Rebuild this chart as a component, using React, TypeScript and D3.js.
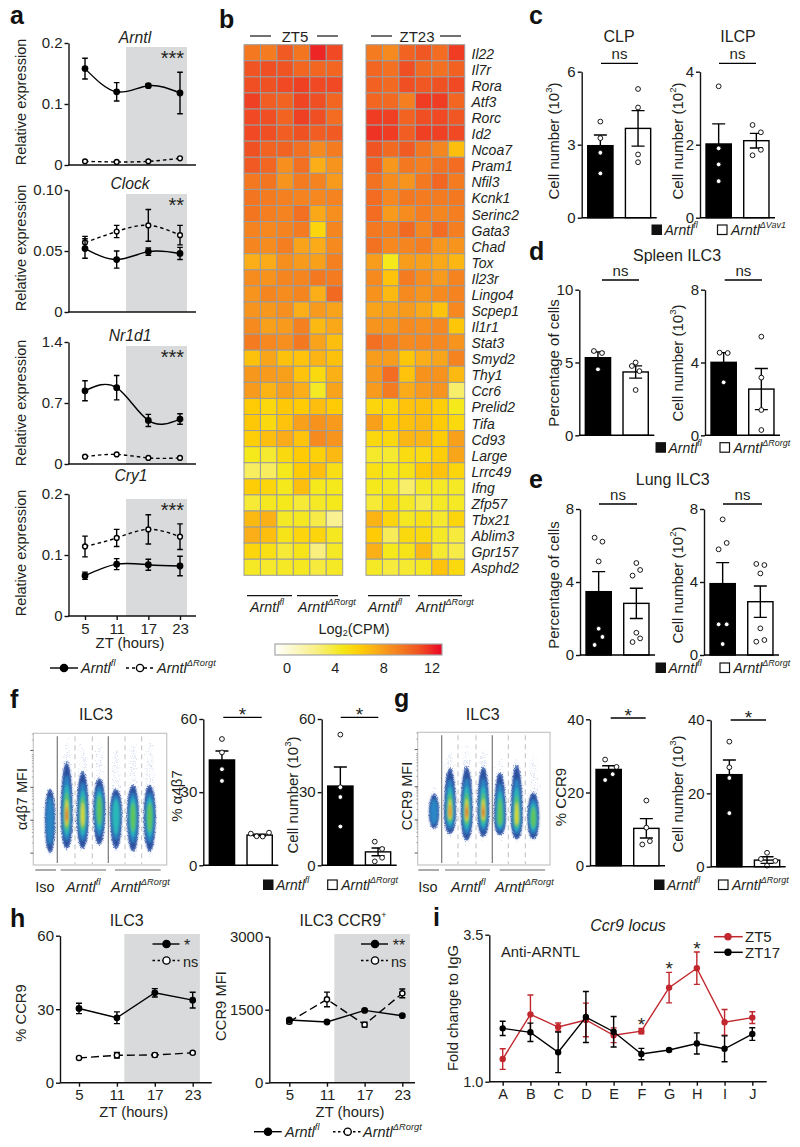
import * as d3 from "d3";
import { useEffect, useRef } from "react";

const ink = "#231f20";
const font = "'Liberation Sans', Arial, sans-serif";

// panel a
const zt = [5, 11, 17, 23];
const arntlFl = [0.158, 0.12, 0.13, 0.118];
const arntlFlSem = [0.017, 0.015, 0.003, 0.034];
const arntlKo = [0.006, 0.005, 0.006, 0.011];
const arntlKoSem = [0, 0, 0, 0];
const clockFl = [0.052, 0.043, 0.0495, 0.048];
const clockFlSem = [0.008, 0.007, 0.003, 0.005];
const clockKo = [0.057, 0.066, 0.071, 0.063];
const clockKoSem = [0.005, 0.005, 0.013, 0.008];
const nr1d1Fl = [0.84, 0.876, 0.5, 0.516];
const nr1d1FlSem = [0.115, 0.14, 0.07, 0.06];
const nr1d1Ko = [0.084, 0.11, 0.07, 0.07];
const nr1d1KoSem = [0, 0, 0, 0];
const cry1Fl = [0.066, 0.085, 0.084, 0.082];
const cry1FlSem = [0.006, 0.009, 0.009, 0.016];
const cry1Ko = [0.114, 0.128, 0.142, 0.13];
const cry1KoSem = [0.017, 0.014, 0.024, 0.021];

// panel b
const genes = ["Il22", "Il7r", "Rora", "Atf3", "Rorc", "Id2", "Ncoa7", "Pram1", "Nfil3", "Kcnk1", "Serinc2", "Gata3", "Chad", "Tox", "Il23r", "Lingo4", "Scpep1", "Il1r1", "Stat3", "Smyd2", "Thy1", "Ccr6", "Prelid2", "Tifa", "Cd93", "Large", "Lrrc49", "Ifng", "Zfp57", "Tbx21", "Ablim3", "Gpr157", "Asphd2"];
const heatZT5 = [
  [9.6, 9.5, 10.6, 9.7, 11.9, 11.1],
  [10.8, 11, 10.8, 10.2, 10.2, 10.2],
  [11, 10.9, 11.1, 11.3, 11.1, 11.1],
  [11.3, 10.5, 10.3, 11.2, 11, 10.2],
  [11.1, 11, 10.3, 11.3, 11, 10],
  [11.1, 11, 10.5, 10.9, 10.5, 10.6],
  [10.9, 10.3, 10.3, 9.9, 8.9, 9.5],
  [10.6, 10.2, 8.7, 9.9, 7.6, 8.5],
  [9.6, 9.7, 8.5, 9.5, 9.2, 8.3],
  [9.7, 9.5, 9.3, 9.2, 9, 9.2],
  [9.7, 9.4, 9.2, 9.9, 7.8, 8.7],
  [9.2, 9, 9.2, 9.5, 6, 9.1],
  [9.1, 8.8, 9.4, 8, 7.7, 8.9],
  [7.6, 7.7, 8.7, 8.3, 8.1, 9.3],
  [8.8, 8.6, 9.1, 9.1, 9.6, 9.5],
  [8.5, 9.1, 8.8, 9.1, 7.6, 10.1],
  [8.5, 8.4, 8.7, 7.6, 8.3, 8],
  [8.9, 8.1, 8.3, 9.3, 7.2, 7.8],
  [9.5, 9, 8.7, 9.6, 8, 7],
  [6.9, 7.9, 6.9, 6.8, 7.4, 6.9],
  [8.4, 8.3, 8.1, 6.8, 5.8, 7.5],
  [8.3, 7.4, 8.1, 7.6, 4.8, 8],
  [6.5, 5.9, 6.6, 6.5, 7, 6.5],
  [6.6, 5.8, 6.8, 8.1, 8.6, 8.3],
  [6.3, 7, 7.7, 6.8, 8.9, 8.5],
  [5, 4.6, 5.8, 6.5, 6.2, 7.2],
  [3.8, 3.8, 5, 6.5, 7, 5.5],
  [6.4, 6, 5, 7, 5, 5],
  [4.5, 4.9, 5, 4.5, 4.8, 5],
  [7.2, 7.5, 4.8, 4.9, 4.2, 2.8],
  [7.6, 7, 5.2, 6, 6, 4.9],
  [6, 5.4, 4.5, 5.2, 3.2, 4.8],
  [4.8, 4.7, 4.8, 4.9, 4.4, 4.8],
];
const heatZT23 = [
  [9.5, 8.9, 10.3, 10.7, 10, 11.4],
  [10.2, 9.9, 11, 10.1, 9.9, 10.4],
  [10.4, 10.1, 11, 10.7, 10.9, 11.1],
  [10.2, 10.1, 9.4, 11.4, 11.4, 10.2],
  [11.4, 11.3, 10.3, 11, 11.1, 10.7],
  [11.6, 11.4, 10.5, 11.3, 11.3, 11.1],
  [10.8, 10.1, 10.6, 9.7, 9.1, 7],
  [10.4, 8.4, 9.6, 9.4, 9.8, 10],
  [9.8, 8.8, 8.5, 9.6, 10.2, 9.5],
  [10, 9, 9.6, 9.5, 9.5, 9.6],
  [10, 8.3, 8.8, 9.4, 9.1, 9.4],
  [9.6, 9.3, 10.1, 9.1, 10, 9.4],
  [9.8, 9, 9.1, 9.4, 8.4, 8.5],
  [8.2, 5, 8.2, 8.1, 7.8, 7.3],
  [8.9, 6.8, 9.5, 8.8, 8.3, 9.2],
  [8.6, 7.2, 8.9, 8.5, 8.9, 9.2],
  [8, 8, 8.3, 7.8, 6.8, 9],
  [8.5, 8.4, 8.9, 8.7, 9, 6.7],
  [9.9, 9.4, 8.9, 9, 9, 8.5],
  [8.2, 8.2, 6.7, 7.6, 7.9, 9.2],
  [8.4, 10, 6.8, 8.6, 8.6, 7.2],
  [8.3, 9.5, 7.7, 8.3, 8.5, 3.6],
  [6, 5.9, 6.8, 6.9, 6.3, 5],
  [8.1, 6.5, 6.9, 7.2, 6.5, 5.8],
  [5.9, 5.9, 7.3, 7.3, 6.4, 8.1],
  [4.7, 4.6, 5.7, 5.7, 6.3, 7.9],
  [5.4, 5, 5.3, 6.6, 6.8, 6],
  [5, 4.8, 3.6, 4.8, 4.8, 4.8],
  [4.5, 5.5, 4.8, 4.2, 4.8, 4.8],
  [7.4, 6, 4.9, 5.4, 4.7, 6],
  [6.5, 3.9, 5.8, 5.8, 4.8, 4.4],
  [7.5, 5, 5.2, 7.2, 4.6, 4.2],
  [4.8, 4.4, 4.6, 4.9, 6.8, 5.8],
];
const heatTicks = [0, 4, 8, 12];
const heatStops = [0, 3, 5, 6.5, 7.5, 8.5, 9.5, 11, 12];
const heatColors = ["#ffffff", "#f9f08a", "#f5e81b", "#ffcb05", "#fbb116", "#f7941d", "#f47b20", "#f04e23", "#ed2024"];

// bar panels: mean, sem, individual mice, and which side of the bar each dot sits on
const clpMean = [2.96, 3.67];
const clpSem = [0.44, 0.73];
const clpDots = [[3.95, 3.27, 2.67, 1.82], [5.29, 4.53, 2.6, 2.28]];
const clpSide = [[0, 0, 0, 0], [0, 0, 0, 0]];
const ilcpMean = [2.02, 2.11];
const ilcpSem = [0.55, 0.2];
const ilcpDots = [[3.6, 1.9, 1.46, 1.0], [2.54, 2.34, 1.86, 1.71]];
const ilcpSide = [[0, 0, 0, 0], [-0.15, 0.18, 0.18, -0.15]];
const spleenPctMean = [5.33, 4.35];
const spleenPctSem = [0.4, 0.42];
const spleenPctDots = [[5.79, 5.65, 4.53], [5, 4.76, 4.41, 3.11]];
const spleenPctSide = [[-0.16, 0.16, 0], [0, -0.15, 0.15, 0]];
const spleenNumMean = [4.01, 2.54];
const spleenNumSem = [0.53, 1.13];
const spleenNumDots = [[4.54, 4.52, 2.91], [5.42, 3.17, 1.39, 0.29]];
const spleenNumSide = [[-0.16, 0.16, 0], [0, 0, 0, 0]];
const lungPctMean = [3.47, 2.83];
const lungPctSem = [1.1, 0.83];
const lungPctDots = [[6.43, 6.21, 5.13, 1.44, 0.99, 0.55], [5.04, 4.66, 4.35, 1.22, 0.91, 0.71]];
const lungPctSide = [[-0.16, 0.15, 0, 0, 0.15, -0.16], [0, 0.15, -0.15, 0, 0.15, -0.15]];
const lungNumMean = [3.91, 2.92];
const lungNumSem = [1.15, 0.86];
const lungNumDots = [[7.43, 6.14, 5.79, 1.68, 1.68, 0.6], [4.99, 4.93, 4.47, 1.46, 0.82, 0.73]];
const lungNumSide = [[0, 0.16, -0.16, -0.16, 0.16, 0], [-0.16, 0.16, 0, 0, 0.16, -0.16]];
const a4b7PctMean = [43.2, 12.4];
const a4b7PctSem = [3.7, 0.4];
const a4b7PctDots = [[51.8, 46.3, 39.4, 34.6], [13, 11.9, 11.8, 13.4]];
const a4b7PctSide = [[0, 0, 0, 0], [-0.35, -0.12, 0.12, 0.37]];
const a4b7NumMean = [32.5, 5.5];
const a4b7NumSem = [7.8, 1.6];
const a4b7NumDots = [[53.6, 32, 28, 15.9], [9.7, 6.7, 3.1, 1.6]];
const a4b7NumSide = [[0, 0, 0, 0], [-0.13, 0.16, 0.16, -0.13]];
const ccr9PctMean = [26.3, 10.2];
const ccr9PctSem = [1, 2.65];
const ccr9PctDots = [[29, 27, 25, 23.4], [17.8, 10.4, 6.7, 5.8]];
const ccr9PctSide = [[-0.14, 0.31, 0.16, -0.14], [0, 0, 0.14, -0.16]];
const ccr9NumMean = [25.1, 1.8];
const ccr9NumSem = [4, 0.9];
const ccr9NumDots = [[34.1, 27.1, 24.2, 14.6], [3.8, 2.1, 1.6, 0.3]];
const ccr9NumSide = [[0, 0, 0, 0], [0, -0.24, 0.33, 0]];

// flow plots, in percent of the plot height
const a4b7Centre = [34, 37, 37, 42, 39, 37, 37];
const a4b7Top = [57, 77, 70, 65, 57, 60, 60];
const a4b7Bottom = [10, 13, 13, 16, 13, 11, 11];
const a4b7Tail = [62, 97, 92, 95, 87, 93, 95];
const a4b7Peak = [2, 7, 5, 4, 3, 4, 4];
const ccr9Centre = [39, 39, 39, 39, 35, 35, 35];
const ccr9Top = [53, 72, 73, 73, 69, 74, 54];
const ccr9Bottom = [28, 24, 19, 22, 23, 20, 20];
const ccr9Tail = [60, 85, 92, 88, 80, 82, 82];
const ccr9Peak = [2, 6, 7, 7, 4, 5, 4];
const jet = ["#2c4f9f", "#2a86c4", "#2bb8b8", "#5fc45a", "#dcd92b", "#f58a1f", "#e5262a"];
const flowMajor = [87, 59, 34, 9];

// panel h
const hPctFl = [30.3, 26.5, 36.7, 33.7];
const hPctFlSem = [2.1, 2.4, 1.7, 3.2];
const hPctKo = [10.1, 11.2, 11.3, 12.2];
const hPctKoSem = [0.3, 1.1, 0.7, 0.3];
const hMfiFl = [1288, 1247, 1486, 1377];
const hMfiFlSem = [25, 25, 25, 25];
const hMfiKo = [1253, 1712, 1192, 1836];
const hMfiKoSem = [40, 150, 50, 90];

// panel i
const loci = ["A", "B", "C", "D", "E", "F", "G", "H", "I", "J"];
const zt5Fold = [1.385, 2.145, 1.93, 2.05, 1.79, 1.86, 2.6, 2.93, 2.01, 2.09];
const zt5Sem = [0.176, 0.329, 0.068, 0.286, 0.125, 0.045, 0.26, 0.275, 0.218, 0.1];
const zt17Fold = [1.907, 1.84, 1.5, 2.1, 1.85, 1.47, 1.54, 1.65, 1.56, 1.81];
const zt17Sem = [0.122, 0.156, 0.346, 0.434, 0.26, 0.096, 0.017, 0.18, 0.22, 0.108];
const iStars = ["F", "G", "H"];

const colorScale = d3.scaleLinear<string>().domain(heatStops).range(heatColors);

type Txt = {
  x: number;
  y: number;
  size?: number;
  anchor?: string;
  italic?: boolean;
  bold?: boolean;
  children: any;
  rotate?: boolean;
  fill?: string;
};

function T({ x, y, size = 15, anchor = "middle", italic, bold, children, rotate, fill = ink }: Txt) {
  return (
    <text
      x={rotate ? 0 : x}
      y={rotate ? 0 : y}
      transform={rotate ? `translate(${x},${y}) rotate(-90)` : undefined}
      fontSize={size}
      textAnchor={anchor}
      dominantBaseline="central"
      fontStyle={italic ? "italic" : undefined}
      fontWeight={bold ? "bold" : undefined}
      fill={fill}
    >
      {children}
    </text>
  );
}

function Strain({ x, y, sup, size = 14.5 }: { x: number; y: number; sup: string; size?: number }) {
  return (
    <text x={x} y={y} fontSize={size} fontStyle="italic" dominantBaseline="central" fill={ink}>
      Arntl
      <tspan dy={-5} fontSize={size * 0.64}>
        {sup}
      </tspan>
    </text>
  );
}

function CellNumber({ exp }: { exp: string }) {
  return (
    <>
      <tspan>Cell number (10</tspan>
      <tspan dy={-5} fontSize={9.5}>
        {exp}
      </tspan>
      <tspan dy={5}>)</tspan>
    </>
  );
}

function YAxis({ scale, x, ticks, labels, size = 15 }: any) {
  const ref = useRef<SVGGElement | null>(null);
  useEffect(() => {
    const g = d3.select(ref.current);
    g.call(
      d3
        .axisLeft(scale)
        .tickValues(ticks)
        .tickSize(4)
        .tickSizeOuter(0)
        .tickPadding(2)
        .tickFormat((_: any, i: number) => labels[i]) as any
    );
    g.selectAll("path,line").attr("stroke", "#111").attr("stroke-width", 1.4);
    g.selectAll("text").attr("fill", ink).attr("font-size", size).attr("font-family", font);
  }, [scale, ticks, labels, size]);
  return <g ref={ref} transform={`translate(${x},0)`} />;
}

function XAxis({ scale, y, ticks, labels, size = 15, x0, x1 }: any) {
  const ref = useRef<SVGGElement | null>(null);
  useEffect(() => {
    const g = d3.select(ref.current);
    g.call(
      d3
        .axisBottom(scale)
        .tickValues(ticks)
        .tickSize(4)
        .tickSizeOuter(0)
        .tickPadding(3)
        .tickFormat((_: any, i: number) => labels[i]) as any
    );
    g.select("path.domain").remove();
    g.selectAll("line").attr("stroke", "#111").attr("stroke-width", 1.4);
    g.selectAll("text").attr("fill", ink).attr("font-size", size).attr("font-family", font);
  }, [scale, ticks, labels, size]);
  return (
    <g>
      <line x1={x0} x2={x1} y1={y} y2={y} stroke="#111" strokeWidth={1.5} />
      <g ref={ref} transform={`translate(0,${y})`} />
    </g>
  );
}

function Series({ x, y, xs, values, sem, curve, dash, open, color = "#000", r = 2.7, cap = 2.8, width = 1.4 }: any) {
  const line = d3
    .line<number>()
    .x((_, i) => x(xs[i]))
    .y((d) => y(d))
    .curve(curve);
  return (
    <g>
      <path d={line(values) || ""} fill="none" stroke={color} strokeWidth={width} strokeDasharray={dash} />
      {values.map((v: number, i: number) => {
        const cx = x(xs[i]);
        const s = sem[i];
        return (
          <g key={i} stroke={color} strokeWidth={1.4}>
            {s > 0 && (
              <path
                fill="none"
                d={`M${cx - cap},${y(v + s)}H${cx + cap}M${cx},${y(v + s)}V${y(v - s)}M${cx - cap},${y(v - s)}H${cx + cap}`}
              />
            )}
            <circle cx={cx} cy={y(v)} r={r} fill={open ? "#fff" : color} />
          </g>
        );
      })}
    </g>
  );
}

function ExpressionPanel({ top, bottom, yMax, ticks, labels, title, titleX, titleY, labelY, stars, fl, flSem, ko, koSem, shadeTop, xAxis }: any) {
  const x = d3.scaleLinear().domain([5, 23]).range([85, 180]);
  const y = d3.scaleLinear().domain([0, yMax]).range([bottom, top]);
  return (
    <g>
      <rect x={126} y={shadeTop} width={61} height={bottom - shadeTop} fill="#d9dadb" />
      <YAxis scale={y} x={68.5} ticks={ticks} labels={labels} />
      {xAxis ? (
        <XAxis scale={x} y={bottom} ticks={zt} labels={zt.map(String)} x0={68} x1={196} />
      ) : (
        <line x1={68} x2={196} y1={bottom} y2={bottom} stroke="#111" strokeWidth={1.5} />
      )}
      <T x={titleX} y={titleY} size={15.7} italic>
        {title}
      </T>
      <T x={21} y={labelY} size={14.5} rotate>
        Relative expression
      </T>
      <T x={184} y={shadeTop + 11} size={20} anchor="end">
        {stars}
      </T>
      <Series x={x} y={y} xs={zt} values={ko} sem={koSem} curve={d3.curveNatural} dash="3.5,3" open r={2.4} />
      <Series x={x} y={y} xs={zt} values={fl} sem={flSem} curve={d3.curveNatural} />
    </g>
  );
}

function BarPanel({ axisX, top, bottom, yMax, ticks, mean, sem, dots, side, yLabel, labelX, labelY }: any) {
  const groups = ["fl", "ko"];
  const x = d3.scaleBand<string>().domain(groups).range([axisX, axisX + 75]).paddingInner(0.33).paddingOuter(0.16);
  const y = d3.scaleLinear().domain([0, yMax]).range([bottom, top]);
  const bw = x.bandwidth();
  return (
    <g>
      {groups.map((g, i) => {
        const cx = (x(g) as number) + bw / 2;
        const hi = y(mean[i] + sem[i]);
        const lo = y(mean[i] - sem[i]);
        return (
          <g key={g}>
            <rect
              x={x(g)}
              y={y(mean[i])}
              width={bw}
              height={bottom - y(mean[i])}
              fill={i === 0 ? "#000" : "#fff"}
              stroke="#000"
              strokeWidth={1.4}
            />
            <path d={`M${cx - 6.5},${hi}H${cx + 6.5}M${cx},${hi}V${lo}M${cx - 6.5},${lo}H${cx + 6.5}`} fill="none" stroke="#000" strokeWidth={1.4} />
            {dots[i].map((d: number, j: number) => (
              <circle key={j} cx={cx + side[i][j] * bw} cy={y(d)} r={2.4} fill="#fff" stroke="#000" strokeWidth={0.9} />
            ))}
          </g>
        );
      })}
      <YAxis scale={y} x={axisX} ticks={ticks} labels={ticks.map(String)} size={15} />
      <line x1={axisX} x2={axisX + 75} y1={bottom} y2={bottom} stroke="#000" strokeWidth={1.6} />
      <T x={labelX} y={labelY} size={15} rotate>
        {yLabel}
      </T>
    </g>
  );
}

function Bracket({ x0, x1, y, label, gap = 10, size = 15 }: any) {
  return (
    <g>
      <line x1={x0} x2={x1} y1={y} y2={y} stroke="#000" strokeWidth={1.3} />
      <T x={(x0 + x1) / 2} y={y - gap} size={size}>
        {label}
      </T>
    </g>
  );
}

function SquareKey({ x0, x1, y, ko }: any) {
  return (
    <g>
      <rect x={x0} y={y - 5} width={9.5} height={9.5} fill="#111" stroke="#111" />
      <Strain x={x0 + 12.5} y={y} sup="fl" size={14} />
      <rect x={x1} y={y - 5} width={9.5} height={9.5} fill="#fff" stroke="#111" strokeWidth={1.2} />
      <Strain x={x1 + 13.5} y={y} sup={ko} size={14} />
    </g>
  );
}

function FlowPlot({ x0, x1, top, bottom, lanes, solid, dashed, centre, upper, lower, tail, peak, id }: any) {
  const y = d3.scaleLinear().domain([0, 100]).range([bottom, top]);
  const levels = [1, 0.78, 0.6, 0.45, 0.32, 0.2, 0.1];
  const shape = (cx: number, i: number, k: number, rx: number) => {
    const c = y(centre[i]);
    const ru = (c - y(upper[i])) * k;
    const rd = (y(lower[i]) - c) * k;
    return `M${cx},${c - ru}A${rx * k},${ru} 0 0 1 ${cx + rx * k},${c}A${rx * k},${rd} 0 0 1 ${cx},${c + rd}A${rx * k},${rd} 0 0 1 ${cx - rx * k},${c}A${rx * k},${ru} 0 0 1 ${cx},${c - ru}Z`;
  };
  const minor = flowMajor.flatMap((m) => d3.range(2, 10).map((v) => m + Math.log10(v) * 26));
  return (
    <g>
      <rect x={x0} y={top} width={x1 - x0} height={bottom - top} fill="#fff" stroke="#c4c5c6" strokeWidth={1.2} />
      {flowMajor.map((m) => (
        <line key={m} x1={x0 - 3} x2={x0} y1={y(m)} y2={y(m)} stroke="#333" strokeWidth={0.8} />
      ))}
      {minor
        .filter((m) => m < 100)
        .map((m, i) => (
          <line key={i} x1={x0 - 1.5} x2={x0} y1={y(m)} y2={y(m)} stroke="#666" strokeWidth={0.5} />
        ))}
      {dashed.map((d: number) => (
        <line key={d} x1={d} x2={d} y1={top + 3} y2={bottom - 1} stroke="#bdbebf" strokeWidth={1} strokeDasharray="5,4" />
      ))}
      {lanes.map((cx: number, i: number) => {
        const rx = i === 0 ? 4.8 : 5.6;
        return (
          <g key={i}>
            <ellipse
              cx={cx}
              cy={(y(tail[i]) + y(lower[i] - 4)) / 2}
              rx={rx * 0.8}
              ry={(y(lower[i] - 4) - y(tail[i])) / 2}
              fill={`url(#${id}-stipple)`}
              opacity={0.7}
              filter="url(#speckle-wide)"
            />
            <path d={shape(cx, i, 1.04, rx)} fill="#3a5fb0" opacity={0.7} filter="url(#speckle)" />
            <g filter="url(#soft)">
              {levels.slice(0, peak[i]).map((k, l) => (
                <path key={l} d={shape(cx, i, k, rx)} fill={jet[l]} />
              ))}
            </g>
          </g>
        );
      })}
      {solid.map((d: number) => (
        <line key={d} x1={d} x2={d} y1={top + 3} y2={bottom - 2} stroke="#77787a" strokeWidth={1.2} />
      ))}
    </g>
  );
}

function TimeLegend({ x0, x1, cx, y, dash, open }: any) {
  return (
    <g>
      <line x1={x0} x2={x1} y1={y} y2={y} stroke="#000" strokeWidth={1.4} strokeDasharray={dash} />
      <circle cx={cx} cy={y} r={3.6} fill={open ? "#fff" : "#000"} stroke="#000" strokeWidth={1.4} />
    </g>
  );
}

function TimePanel({ axisX, right, shadeX, xs, yMax, ticks, top, title, titleX, yLabel, labelX, labelY, fl, flSem, ko, koSem, star, starX, nsX, keyX }: any) {
  const bottom = 1082.7;
  const x = d3.scaleLinear().domain([5, 23]).range(xs);
  const y = d3.scaleLinear().domain([0, yMax]).range([bottom, top]);
  return (
    <g>
      <rect x={shadeX} y={934} width={75.6} height={bottom - 934} fill="#d9dadb" />
      <YAxis scale={y} x={axisX} ticks={ticks} labels={ticks.map(String)} />
      <XAxis scale={x} y={bottom} ticks={zt} labels={zt.map(String)} x0={axisX} x1={right} />
      <T x={titleX} y={920} size={16}>
        {title}
      </T>
      <T x={titleX + 7} y={1111.5} size={14.8}>
        ZT (hours)
      </T>
      <T x={labelX} y={labelY} size={14.8} rotate>
        {yLabel}
      </T>
      <Series x={x} y={y} xs={zt} values={ko} sem={koSem} curve={d3.curveLinear} dash="8,4" open r={2.6} cap={3} />
      <Series x={x} y={y} xs={zt} values={fl} sem={flSem} curve={d3.curveLinear} cap={3} />
      <TimeLegend x0={keyX} x1={keyX + 27} cx={keyX + 14} y={944} />
      <T x={starX} y={945.5} size={16}>
        {star}
      </T>
      <TimeLegend x0={keyX} x1={keyX + 27} cx={keyX + 14} y={960.5} dash="2.5,2.5" open />
      <T x={nsX} y={961.5} size={14.5} anchor="start">
        ns
      </T>
    </g>
  );
}

function HeatBlock({ x0, values }: { x0: number; values: number[][] }) {
  const cols = d3.range(6);
  const x = d3.scaleBand<number>().domain(cols).range([x0, x0 + 98.7]);
  const y = d3.scaleBand<string>().domain(genes).range([44.7, 575.3]);
  return (
    <g>
      {genes.map((g, r) =>
        cols.map((c) => (
          <rect
            key={`${g}${c}`}
            x={x(c)}
            y={y(g)}
            width={x.bandwidth()}
            height={y.bandwidth()}
            fill={colorScale(values[r][c])}
            stroke="#9c9c9c"
            strokeWidth={1}
          />
        ))
      )}
    </g>
  );
}

export default function App() {
  const geneY = d3.scaleBand<string>().domain(genes).range([44.7, 575.3]);
  const heatX = d3.scaleLinear().domain([0, 12]).range([287, 432]);
  const iX = d3.scalePoint<string>().domain(loci).range([502.7, 752.3]);
  const iY = d3.scaleLinear().domain([1, 3.5]).range([1081.7, 934.7]);
  const iIndex = loci.map((_, i) => i);
  const iXi = (i: number) => iX(loci[i]) as number;
  const hLegendY = 1131.7;

  return (
    <svg
      width={800}
      height={1147}
      viewBox="0 0 800 1147"
      style={{ position: "absolute", left: 0, top: 0, fontFamily: font, background: "#fff" }}
    >
      <defs>
        <filter id="speckle" x="-60%" y="-30%" width="220%" height="160%">
          <feTurbulence type="fractalNoise" baseFrequency="0.9" numOctaves={2} seed={4} result="n" />
          <feDisplacementMap in="SourceGraphic" in2="n" scale={5} xChannelSelector="R" yChannelSelector="G" />
        </filter>
        <filter id="speckle-wide" x="-100%" y="-30%" width="300%" height="160%">
          <feTurbulence type="fractalNoise" baseFrequency="0.55" numOctaves={2} seed={9} result="n" />
          <feDisplacementMap in="SourceGraphic" in2="n" scale={11} xChannelSelector="R" yChannelSelector="G" />
        </filter>
        <filter id="soft" x="-40%" y="-20%" width="180%" height="140%">
          <feGaussianBlur stdDeviation={0.9} />
        </filter>
        {["f", "g"].map((id) => (
          <pattern key={id} id={`${id}-stipple`} width={3.1} height={3.1} patternUnits="userSpaceOnUse">
            <circle cx={1.5} cy={1.5} r={0.45} fill="#3f64b8" />
          </pattern>
        ))}
        <linearGradient id="heatbar">
          {d3.range(0, 1.001, 0.05).map((t) => (
            <stop key={t} offset={t} stopColor={colorScale(t * 12.6)} />
          ))}
        </linearGradient>
      </defs>

      {/* panel letters */}
      {[
        ["a", 10, 15],
        ["b", 219, 19],
        ["c", 529, 15],
        ["d", 529, 251],
        ["e", 529, 479],
        ["f", 10, 699],
        ["g", 394, 698],
        ["h", 10, 918],
        ["i", 433, 917],
      ].map(([l, x, y]) => (
        <T key={l as string} x={x as number} y={y as number} size={25} bold anchor="start" fill="#111">
          {l}
        </T>
      ))}

      {/* a */}
      <ExpressionPanel top={43} bottom={165} yMax={0.2} ticks={[0, 0.1, 0.2]} labels={["0", "0.1", "0.2"]} title="Arntl" titleX={135} titleY={37} labelY={102} stars="***" shadeTop={47} fl={arntlFl} flSem={arntlFlSem} ko={arntlKo} koSem={arntlKoSem} />
      <ExpressionPanel top={190} bottom={312} yMax={0.1} ticks={[0, 0.05, 0.1]} labels={["0", "0.05", "0.10"]} title="Clock" titleX={130} titleY={183} labelY={248} stars="**" shadeTop={194} fl={clockFl} flSem={clockFlSem} ko={clockKo} koSem={clockKoSem} />
      <ExpressionPanel top={342} bottom={464} yMax={1.4} ticks={[0, 0.7, 1.4]} labels={["0", "0.7", "1.4"]} title="Nr1d1" titleX={130} titleY={335} labelY={403} stars="***" shadeTop={346} fl={nr1d1Fl} flSem={nr1d1FlSem} ko={nr1d1Ko} koSem={nr1d1KoSem} />
      <ExpressionPanel top={494} bottom={616} yMax={0.2} ticks={[0, 0.1, 0.2]} labels={["0", "0.1", "0.2"]} title="Cry1" titleX={131} titleY={475} labelY={553} stars="***" shadeTop={499} fl={cry1Fl} flSem={cry1FlSem} ko={cry1Ko} koSem={cry1KoSem} xAxis />
      <T x={130} y={643} size={14.8}>
        ZT (hours)
      </T>
      <TimeLegend x0={50} x1={78} cx={64} y={668} />
      <Strain x={81} y={668} sup="fl" />
      <TimeLegend x0={126} x1={154} cx={140} y={668} dash="3,3" open />
      <Strain x={157} y={668} sup="ΔRorgt" />

      {/* b */}
      <T x={295} y={36}>
        ZT5
      </T>
      <T x={417} y={36}>
        ZT23
      </T>
      {[
        [250, 271],
        [317, 338],
        [371, 392],
        [440, 461],
      ].map(([a, b]) => (
        <line key={a} x1={a} x2={b} y1={36} y2={36} stroke="#111" strokeWidth={1.2} />
      ))}
      <HeatBlock x0={244} values={heatZT5} />
      <HeatBlock x0={366} values={heatZT23} />
      {genes.map((g) => (
        <T key={g} x={471.5} y={(geneY(g) as number) + geneY.bandwidth() / 2 + 1} size={14} anchor="start" italic>
          {g}
        </T>
      ))}
      {[
        [247, 292],
        [297, 338],
        [368, 410],
        [418, 462],
      ].map(([a, b]) => (
        <line key={a} x1={a} x2={b} y1={595.7} y2={595.7} stroke="#111" strokeWidth={1.2} />
      ))}
      <Strain x={250} y={607} sup="fl" size={14.3} />
      <Strain x={298} y={607} sup="ΔRorgt" size={14.3} />
      <Strain x={368} y={607} sup="fl" size={14.3} />
      <Strain x={416} y={607} sup="ΔRorgt" size={14.3} />
      <text x={354} y={629} fontSize={14.5} textAnchor="middle" dominantBaseline="central" fill={ink}>
        Log
        <tspan dy={4} fontSize={9}>
          2
        </tspan>
        <tspan dy={-4}>(CPM)</tspan>
      </text>
      <rect x={275} y={644} width={167} height={11} fill="url(#heatbar)" stroke="#a5a6a8" strokeWidth={1.2} />
      {heatTicks.map((t) => (
        <T key={t} x={heatX(t)} y={668} size={14.5}>
          {t}
        </T>
      ))}

      {/* c */}
      <T x={619} y={36.5} size={16}>
        CLP
      </T>
      <T x={738} y={36.5} size={16}>
        ILCP
      </T>
      <Bracket x0={601} x1={638} y={63.3} label="ns" />
      <Bracket x0={719} x1={756} y={63.3} label="ns" />
      <BarPanel axisX={581.7} top={71.7} bottom={217.7} yMax={6} ticks={[0, 3, 6]} mean={clpMean} sem={clpSem} dots={clpDots} side={clpSide} yLabel={<CellNumber exp="3" />} labelX={553} labelY={141} />
      <BarPanel axisX={700} top={71.7} bottom={217.7} yMax={4} ticks={[0, 2, 4]} mean={ilcpMean} sem={ilcpSem} dots={ilcpDots} side={ilcpSide} yLabel={<CellNumber exp="2" />} labelX={677} labelY={141} />
      <SquareKey x0={652} x1={717.5} y={230} ko="ΔVav1" />

      {/* d */}
      <T x={677} y={255} size={16}>
        Spleen ILC3
      </T>
      <Bracket x0={602} x1={639} y={280} label="ns" />
      <Bracket x0={724.7} x1={762} y={280} label="ns" />
      <BarPanel axisX={579.3} top={289.7} bottom={435.3} yMax={10} ticks={[0, 5, 10]} mean={spleenPctMean} sem={spleenPctSem} dots={spleenPctDots} side={spleenPctSide} yLabel="Percentage of cells" labelX={553} labelY={363} />
      <BarPanel axisX={705} top={289.7} bottom={435.3} yMax={8} ticks={[0, 4, 8]} mean={spleenNumMean} sem={spleenNumSem} dots={spleenNumDots} side={spleenNumSide} yLabel={<CellNumber exp="3" />} labelX={677} labelY={363} />
      <SquareKey x0={656} x1={720} y={447.7} ko="ΔRorgt" />

      {/* e */}
      <T x={672.7} y={479} size={16}>
        Lung ILC3
      </T>
      <Bracket x0={599} x1={637} y={504} label="ns" />
      <Bracket x0={723} x1={762} y={504} label="ns" />
      <BarPanel axisX={580} top={509} bottom={655} yMax={8} ticks={[0, 4, 8]} mean={lungPctMean} sem={lungPctSem} dots={lungPctDots} side={lungPctSide} yLabel="Percentage of cells" labelX={553} labelY={585} />
      <BarPanel axisX={704} top={509} bottom={655} yMax={8} ticks={[0, 4, 8]} mean={lungNumMean} sem={lungNumSem} dots={lungNumDots} side={lungNumSide} yLabel={<CellNumber exp="2" />} labelX={677} labelY={585} />
      <SquareKey x0={656} x1={720} y={668} ko="ΔRorgt" />

      {/* f */}
      <T x={96} y={714} size={16}>
        ILC3
      </T>
      <FlowPlot id="f" x0={33.3} x1={166.7} top={733.3} bottom={865} lanes={[50, 66.7, 82.7, 99.3, 116, 133, 149.7]} solid={[57.3, 108.3]} dashed={[75, 92.3, 125, 141.7]} centre={a4b7Centre} upper={a4b7Top} lower={a4b7Bottom} tail={a4b7Tail} peak={a4b7Peak} />
      <T x={21.7} y={799} size={14.5} rotate>
        α4β7 MFI
      </T>
      {[
        [35.3, 56],
        [60.7, 106],
        [115, 160.7],
      ].map(([a, b]) => (
        <line key={a} x1={a} x2={b} y1={870} y2={870} stroke="#666" strokeWidth={1.1} />
      ))}
      <T x={45} y={886.5} size={14.5}>
        Iso
      </T>
      <Strain x={66} y={886.5} sup="fl" />
      <Strain x={111} y={886.5} sup="ΔRorgt" />
      <Bracket x0={223.3} x1={261.7} y={717.3} label="*" gap={3} size={19} />
      <BarPanel axisX={203.3} top={719} bottom={865.3} yMax={60} ticks={[0, 30, 60]} mean={a4b7PctMean} sem={a4b7PctSem} dots={a4b7PctDots} side={a4b7PctSide} yLabel="% α4β7" labelX={176.7} labelY={796} />
      <Bracket x0={340.7} x1={378.3} y={717.3} label="*" gap={3} size={19} />
      <BarPanel axisX={321.7} top={719} bottom={865.3} yMax={60} ticks={[0, 30, 60]} mean={a4b7NumMean} sem={a4b7NumSem} dots={a4b7NumDots} side={a4b7NumSide} yLabel={<CellNumber exp="3" />} labelX={291.7} labelY={795} />
      <SquareKey x0={263.5} x1={327.7} y={885} ko="ΔRorgt" />

      {/* g */}
      <T x={482.7} y={714} size={16}>
        ILC3
      </T>
      <FlowPlot id="g" x0={417.7} x1={550} top={732.3} bottom={865} lanes={[434, 450, 466.7, 483.3, 500, 516.7, 533.3]} solid={[441.7, 492.3]} dashed={[458, 476, 508.3, 525.3]} centre={ccr9Centre} upper={ccr9Top} lower={ccr9Bottom} tail={ccr9Tail} peak={ccr9Peak} />
      <T x={406.7} y={796} size={14.5} rotate>
        CCR9 MFI
      </T>
      {[
        [418.3, 439],
        [445, 490],
        [499.7, 545],
      ].map(([a, b]) => (
        <line key={a} x1={a} x2={b} y1={870} y2={870} stroke="#666" strokeWidth={1.1} />
      ))}
      <T x={428} y={886.5} size={14.5}>
        Iso
      </T>
      <Strain x={451} y={886.5} sup="fl" />
      <Strain x={495} y={886.5} sup="ΔRorgt" />
      <Bracket x0={610.7} x1={645.7} y={718} label="*" gap={3} size={19} />
      <BarPanel axisX={590} top={719.3} bottom={865.7} yMax={40} ticks={[0, 20, 40]} mean={ccr9PctMean} sem={ccr9PctSem} dots={ccr9PctDots} side={ccr9PctSide} yLabel="% CCR9" labelX={560.7} labelY={797} />
      <Bracket x0={730.7} x1={766} y={720} label="*" gap={3} size={19} />
      <BarPanel axisX={710.7} top={720} bottom={866.7} yMax={40} ticks={[0, 20, 40]} mean={ccr9NumMean} sem={ccr9NumSem} dots={ccr9NumDots} side={ccr9NumSide} yLabel={<CellNumber exp="3" />} labelX={676.7} labelY={794} />
      <SquareKey x0={654.5} x1={718.5} y={885} ko="ΔRorgt" />

      {/* h */}
      <TimePanel axisX={60} right={211.7} shadeX={124.3} xs={[79, 192.7]} yMax={60} ticks={[0, 30, 60]} top={935.7} title="ILC3" titleX={126.7} yLabel="% CCR9" labelX={20.7} labelY={1013} fl={hPctFl} flSem={hPctFlSem} ko={hPctKo} koSem={hPctKoSem} star="*" starX={187} nsX={183} keyX={152.5} />
      <TimePanel axisX={269.3} right={415} shadeX={334.3} xs={[289.3, 402.3]} yMax={3000} ticks={[0, 1500, 3000]} top={936.7} title={<><tspan>ILC3 CCR9</tspan><tspan dy={-5} fontSize={9}>+</tspan></>} titleX={343} yLabel="CCR9 MFI" labelX={220.7} labelY={1006} fl={hMfiFl} flSem={hMfiFlSem} ko={hMfiKo} koSem={hMfiKoSem} star="**" starX={399} nsX={391} keyX={361} />
      <TimeLegend x0={254} x1={281.7} cx={268} y={hLegendY} />
      <Strain x={285} y={hLegendY} sup="fl" />
      <TimeLegend x0={333} x1={361} cx={347.7} y={hLegendY} dash="2.5,2.5" open />
      <Strain x={363} y={hLegendY} sup="ΔRorgt" />

      {/* i */}
      <T x={628} y={925} size={16} italic>
        Ccr9 locus
      </T>
      <T x={501} y={951.7} size={14.8} anchor="start">
        Anti-ARNTL
      </T>
      <T x={452.7} y={1008} size={14.8} rotate>
        Fold change to IgG
      </T>
      <YAxis scale={iY} x={489.3} ticks={[1, 3.5]} labels={["1.0", "3.5"]} size={14.5} />
      <XAxis scale={iX} y={1081.7} ticks={loci} labels={loci} x0={489.3} x1={766.7} size={14.5} />
      <Series x={iXi} y={iY} xs={iIndex} values={zt5Fold} sem={zt5Sem} curve={d3.curveLinear} color="#c1272d" r={2.5} cap={3} />
      <Series x={iXi} y={iY} xs={iIndex} values={zt17Fold} sem={zt17Sem} curve={d3.curveLinear} color="#000" r={2.5} cap={3} />
      {iStars.map((l) => {
        const i = loci.indexOf(l);
        return (
          <T key={l} x={iX(l) as number} y={iY(zt5Fold[i] + zt5Sem[i]) - 4} size={19}>
            *
          </T>
        );
      })}
      <line x1={714} x2={742.7} y1={936.7} y2={936.7} stroke="#c1272d" strokeWidth={1.5} />
      <circle cx={728} cy={936.7} r={3.7} fill="#c1272d" />
      <T x={745} y={936.7} anchor="start">
        ZT5
      </T>
      <line x1={714} x2={742.7} y1={952.3} y2={952.3} stroke="#000" strokeWidth={1.5} />
      <circle cx={728} cy={952.3} r={3.7} fill="#000" />
      <T x={745} y={952.3} anchor="start">
        ZT17
      </T>
    </svg>
  );
}
